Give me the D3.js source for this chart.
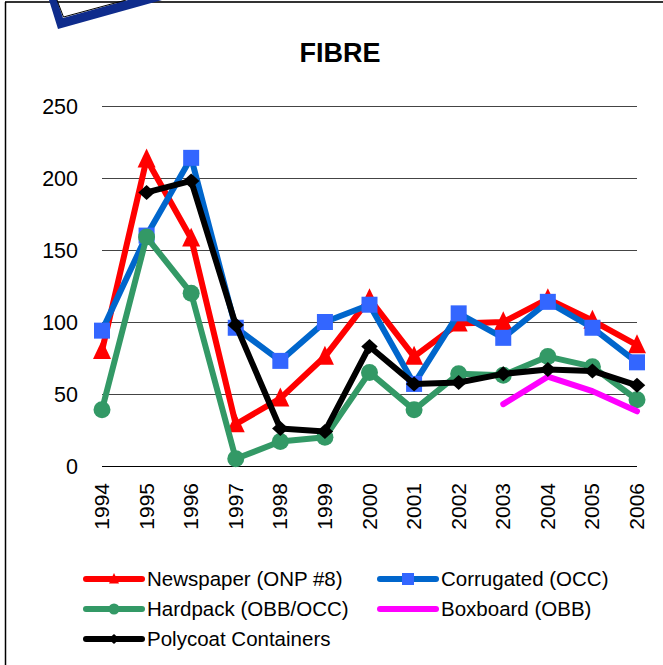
<!DOCTYPE html>
<html>
<head>
<meta charset="utf-8">
<script src="https://cdn.jsdelivr.net/npm/d3@7"></script>
<style>
  html, body { margin: 0; padding: 0; background: #fff; }
  svg { display: block; font-family: "Liberation Sans", Arial, sans-serif; }
</style>
</head>
<body>
<svg id="chart" width="663" height="665"></svg>
<script>
const years = ["1994","1995","1996","1997","1998","1999","2000","2001","2002","2003","2004","2005","2006"];
const newspaper = [80, 213, 158, 29, 47, 76, 116, 76, 99, 100, 116, 101, 84];
const corrugated = [94, 160, 214, 96, 73, 100, 112, 57, 106, 89, 114, 96, 72];
const hardpack = [39, 159, 120, 5, 17, 20, 65, 39, 64, 63, 76, 69, 46];
const boxboard = [null, null, null, null, null, null, null, null, null, 43, 62, 52, 38];
const polycoat = [null, 190, 198, 98, 26, 24, 83, 57, 58, 64, 67, 66, 56];
const yTicks = [0, 50, 100, 150, 200, 250];
const seriesNames = ["Newspaper (ONP #8)", "Corrugated (OCC)", "Hardpack (OBB/OCC)", "Boxboard (OBB)", "Polycoat Containers"];
const titleText = "FIBRE";

const series = [
  { name: seriesNames[0], values: newspaper, line: "#FF0000", fill: "#FF0000", marker: "triangle" },
  { name: seriesNames[1], values: corrugated, line: "#0066CC", fill: "#3366FF", marker: "square" },
  { name: seriesNames[2], values: hardpack, line: "#339966", fill: "#339966", marker: "circle" },
  { name: seriesNames[3], values: boxboard, line: "#FF00FF", fill: "#FF00FF", marker: "none" },
  { name: seriesNames[4], values: polycoat, line: "#000000", fill: "#000000", marker: "diamond" }
];

const svg = d3.select("#chart");

// frame
svg.append("line").attr("x1", 5).attr("x2", 663).attr("y1", 2).attr("y2", 2)
  .attr("stroke", "#333").attr("stroke-width", 2);
svg.append("line").attr("x1", 5.5).attr("x2", 5.5).attr("y1", 2).attr("y2", 665)
  .attr("stroke", "#000").attr("stroke-width", 1.5);

// decoration (corner of overlapping shape)
svg.append("path")
  .attr("d", "M49,0 L58,29 L162,0 L128,0 L63,18 L57,0 Z")
  .attr("fill", "#0F2C8C");
svg.append("path")
  .attr("d", "M57,0 L63.5,17 L126,0")
  .attr("fill", "none").attr("stroke", "#000").attr("stroke-width", 1);

// title
svg.append("text").attr("x", 340).attr("y", 62).attr("text-anchor", "middle")
  .attr("font-size", 27).attr("font-weight", "bold").attr("fill", "#000").text(titleText);

const x = d3.scalePoint().domain(years).range([102, 637]);
const y = d3.scaleLinear().domain([0, 250]).range([466, 106]);

// gridlines
const grid = svg.append("g");
grid.selectAll("line").data(yTicks).join("line")
  .attr("x1", 102).attr("x2", 637)
  .attr("y1", d => Math.round(y(d)) + 0.5).attr("y2", d => Math.round(y(d)) + 0.5)
  .attr("stroke", d => d === 0 ? "#000" : "#444").attr("stroke-width", 1);

// y axis labels
const yAxis = d3.axisLeft(y).tickValues(yTicks).tickSize(0).tickPadding(0);
const yg = svg.append("g").attr("transform", "translate(78,0)").call(yAxis);
yg.select(".domain").remove();
yg.selectAll("text").attr("font-size", 21.5).attr("font-family", "Liberation Sans, Arial, sans-serif")
  .attr("fill", "#000").attr("dy", "0.36em");

// x axis labels
const xAxis = d3.axisBottom(x).tickSize(0).tickPadding(0);
const xg = svg.append("g").attr("transform", "translate(0,483)").call(xAxis);
xg.select(".domain").remove();
xg.selectAll("text")
  .attr("font-size", 21).attr("font-family", "Liberation Sans, Arial, sans-serif").attr("fill", "#000")
  .attr("text-anchor", "end")
  .attr("transform", "rotate(-90)")
  .attr("x", 0).attr("y", -1).attr("dy", "0.36em");

function drawMarker(g, type, cx, cy, s, fill) {
  if (type === "triangle") {
    const h = s;
    g.append("path").attr("d", `M${cx},${cy - h * 0.6} L${cx + s / 2},${cy + h * 0.45} L${cx - s / 2},${cy + h * 0.45} Z`)
      .attr("fill", fill);
  } else if (type === "square") {
    g.append("rect").attr("x", cx - s / 2).attr("y", cy - s / 2).attr("width", s).attr("height", s).attr("fill", fill);
  } else if (type === "circle") {
    g.append("circle").attr("cx", cx).attr("cy", cy).attr("r", s / 2).attr("fill", fill);
  } else if (type === "diamond") {
    g.append("path").attr("d", `M${cx},${cy - s / 2} L${cx + s * 0.55},${cy} L${cx},${cy + s / 2} L${cx - s * 0.55},${cy} Z`)
      .attr("fill", fill);
  }
}

const line = d3.line()
  .defined(d => d.v !== null)
  .x(d => x(d.year))
  .y(d => y(d.v));

series.forEach(s => {
  const pts = years.map((yr, i) => ({ year: yr, v: s.values[i] }));
  const g = svg.append("g");
  g.append("path").datum(pts).attr("d", line)
    .attr("fill", "none").attr("stroke", s.line).attr("stroke-width", 6)
    .attr("stroke-linejoin", "round").attr("stroke-linecap", "round");
  const size = s.marker === "square" ? 16 : s.marker === "circle" ? 17 : s.marker === "triangle" ? 18 : 15;
  pts.filter(p => p.v !== null).forEach(p => drawMarker(g, s.marker, x(p.year), y(p.v), size, s.fill));
});

// legend
const legendPos = [
  { lx: 86, ly: 579 },
  { lx: 380, ly: 579 },
  { lx: 86, ly: 609 },
  { lx: 380, ly: 609 },
  { lx: 86, ly: 639 }
];
series.forEach((s, i) => {
  const p = legendPos[i];
  const g = svg.append("g");
  g.append("line").attr("x1", p.lx).attr("x2", p.lx + 56).attr("y1", p.ly).attr("y2", p.ly)
    .attr("stroke", s.line).attr("stroke-width", 6).attr("stroke-linecap", "round");
  const ms = s.marker === "square" ? 12 : s.marker === "circle" ? 11 : 10;
  drawMarker(g, s.marker, p.lx + 28, p.ly, ms, s.fill);
  g.append("text").attr("x", p.lx + 61).attr("y", p.ly).attr("dy", "0.36em")
    .attr("font-size", 20.5).attr("fill", "#000").text(s.name);
});
</script>
</body>
</html>
